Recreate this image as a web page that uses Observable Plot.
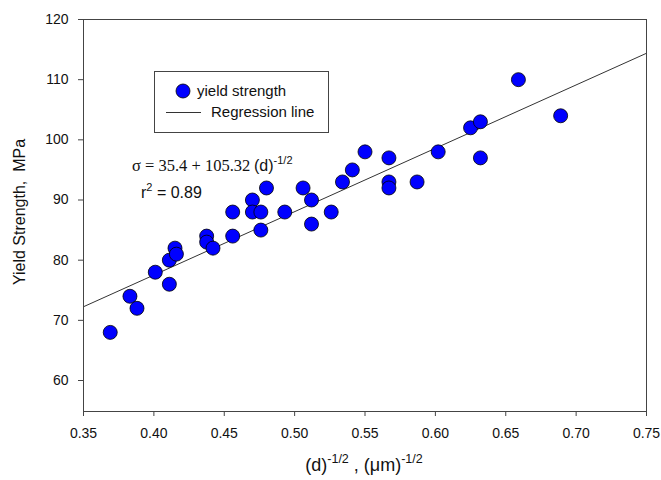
<!DOCTYPE html>
<html><head><meta charset="utf-8">
<script src="https://cdn.jsdelivr.net/npm/d3@7"></script>
<script src="https://cdn.jsdelivr.net/npm/@observablehq/plot@0.6"></script>
<style>body{margin:0;background:#fff}</style>
</head><body><div id="chart"></div>
<script>
// Data
const dInvSqrt = [0.369,0.383,0.388,0.401,0.411,0.411,0.415,0.416,0.4375,0.4375,0.442,0.456,0.456,0.470,0.470,0.476,0.476,0.480,0.493,0.506,0.512,0.512,0.526,0.534,0.541,0.550,0.567,0.567,0.567,0.587,0.602,0.625,0.632,0.632,0.659,0.689];
const yieldStrength = [68,74,72,78,80,76,82,81,84,83,82,88,84,90,88,88,85,92,88,92,90,86,88,93,95,98,97,93,92,93,98,102,103,97,110,104];
const xTicks = [0.35,0.40,0.45,0.50,0.55,0.60,0.65,0.70,0.75];
const yTicks = [60,70,80,90,100,110,120];
const regIntercept = 35.4;
const regSlope = 105.32;
const regX = [0.35, 0.75];

const points = dInvSqrt.map((x, i) => ({x, y: yieldStrength[i]}));
const regLine = regX.map(x => ({x, y: regIntercept + regSlope * x}));

const sans = "Arial, 'Liberation Sans', sans-serif";
const serif = "'Times New Roman', 'Liberation Serif', serif";

const plot = Plot.plot({
  width: 661, height: 480,
  marginLeft: 83, marginRight: 15, marginTop: 19, marginBottom: 69,
  style: {fontFamily: sans, fontSize: "14px", color: "#111", background: "#fff"},
  x: {domain: [0.35, 0.75]},
  y: {domain: [54.85, 120]},
  marks: [
    Plot.axisX({ticks: xTicks, tickFormat: d3.format(".2f"), tickSize: 5, tickPadding: 12, label: null, stroke: "#444", fill: "#111"}),
    Plot.axisY({ticks: yTicks, tickSize: 5, tickPadding: 10, label: null, stroke: "#444", fill: "#111"}),
    Plot.line(regLine, {x: "x", y: "y", stroke: "#333", strokeWidth: 1}),
    Plot.dot(points, {x: "x", y: "y", r: 7, fill: "#0000ff", stroke: "#000", strokeWidth: 0.8}),
    Plot.frame({stroke: "#444"})
  ]
});
document.getElementById("chart").appendChild(plot);

const svg = d3.select(plot);
const g = svg.append("g").attr("font-family", sans).attr("fill", "#111").attr("text-anchor", "start");

// Legend
g.append("rect").attr("x", 154.5).attr("y", 71.5).attr("width", 174).attr("height", 61)
  .attr("fill", "#fff").attr("stroke", "#444");
g.append("circle").attr("cx", 183).attr("cy", 91).attr("r", 7).attr("fill", "#0000ff").attr("stroke", "#000").attr("stroke-width", 0.8);
g.append("text").attr("x", 197).attr("y", 96).attr("font-size", 15).text("yield strength");
g.append("line").attr("x1", 166).attr("x2", 201).attr("y1", 112.5).attr("y2", 112.5).attr("stroke", "#333");
g.append("text").attr("x", 211).attr("y", 117).attr("font-size", 15).text("Regression line");

// Equation
const eq = g.append("text").attr("y", 171).attr("font-size", 16);
eq.append("tspan").attr("x", 132).attr("font-family", serif).attr("font-size", 16.5).text("σ = 35.4 + 105.32");
eq.append("tspan").attr("x", 254).text("(d)");
eq.append("tspan").attr("font-size", 11).attr("dy", -7).text("-1/2");
const r2 = g.append("text").attr("x", 141).attr("y", 198).attr("font-size", 16);
r2.append("tspan").text("r");
r2.append("tspan").attr("font-size", 11).attr("dy", -7).text("2");
r2.append("tspan").attr("dy", 7).text(" = 0.89");

// Axis labels
const xl = g.append("text").attr("x", 364).attr("y", 471).attr("font-size", 18).attr("text-anchor", "middle");
xl.append("tspan").text("(d)");
xl.append("tspan").attr("font-size", 12.5).attr("dy", -8).text("-1/2");
xl.append("tspan").attr("dy", 8).text(" , (μm)");
xl.append("tspan").attr("font-size", 12.5).attr("dy", -8).text("-1/2");

g.append("text").attr("transform", "translate(25,212) rotate(-90)").attr("text-anchor", "middle")
  .attr("font-size", 16).style("white-space", "pre").text("Yield Strength,  MPa");
</script>
</body></html>
